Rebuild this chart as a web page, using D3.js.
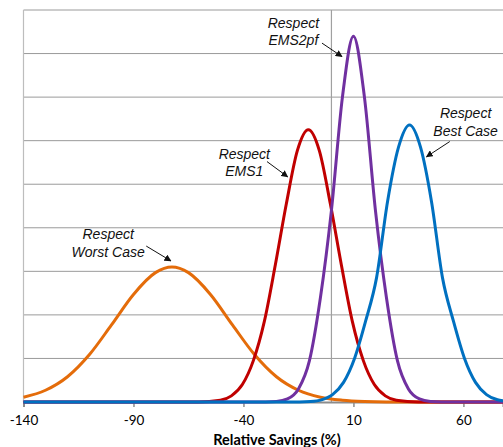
<!DOCTYPE html>
<html>
<head>
<meta charset="utf-8">
<script src="https://cdn.jsdelivr.net/npm/d3@7"></script>
<style>
  body { margin: 0; background: #fff; }
  .tick-label { font-family: Lato, "Open Sans", sans-serif; font-size: 13px; fill: #000; }
  .note { font-family: "Liberation Sans", Arial, sans-serif; font-style: italic; font-size: 14px; fill: #111; }
</style>
</head>
<body>
<svg width="503" height="447"></svg>
<script>
var xTicks = [-140, -90, -40, 10, 60];
var gridLevels = [1, 2, 3, 4, 5, 6, 7, 8, 9];

var worstX = [-140, -130, -120, -110, -100, -90, -80, -72.5, -65, -55, -45, -35, -25, -15, -5, 5, 15, 25, 78];
var worstY = [0.11, 0.27, 0.58, 1.09, 1.77, 2.47, 2.97, 3.1, 2.97, 2.47, 1.77, 1.09, 0.58, 0.27, 0.11, 0.04, 0.01, 0, 0];

var ems1X = [-140, -60.5, -50.5, -45.5, -40.5, -35.5, -30.5, -25.5, -20.5, -15.5, -10.5, -5.5, -0.5, 4.5, 9.5, 14.5, 19.5, 24.5, 29.5, 39.5, 78];
var ems1Y = [0, 0, 0.04, 0.14, 0.4, 0.95, 1.85, 3.15, 4.55, 5.77, 6.25, 5.77, 4.55, 3.15, 1.85, 0.95, 0.4, 0.14, 0.04, 0, 0];

var ems2X = [-140, -30, -25, -20, -15, -10, -5, 0, 5, 10, 15, 20, 25, 30, 35, 40, 45, 50, 78];
var ems2Y = [0, 0, 0.01, 0.07, 0.3, 0.95, 2.4, 4.4, 7.0, 8.4, 7.0, 4.4, 2.4, 0.95, 0.3, 0.07, 0.01, 0, 0];

var bestX = [-140, -14.5, -9.5, -4.5, 0.5, 5.5, 10.5, 15.5, 20.5, 25.5, 30.5, 35.5, 40.5, 45.5, 50.5, 55.5, 60.5, 65.5, 70.5, 75.5, 78];
var bestY = [0, 0, 0.01, 0.05, 0.17, 0.45, 1.0, 1.85, 2.85, 4.6, 5.85, 6.36, 5.85, 4.6, 2.85, 1.85, 1.0, 0.45, 0.17, 0.05, 0.03];

var seriesNames = ['Worst Case', 'EMS1', 'EMS2pf', 'Best Case'];
var seriesColors = ['#e46c0a', '#c00000', '#7030a0', '#0070c0'];

var svg = d3.select('svg');

var x = d3.scaleLinear().domain([-140, 78]).range([23.5, 503]);
var y = d3.scaleLinear().domain([0, 9]).range([402, 10]);

// horizontal grid
svg.append('g')
    .selectAll('line')
    .data(gridLevels)
    .enter().append('line')
    .attr('x1', x(-140))
    .attr('x2', x(78))
    .attr('y1', function(d) { return y(d); })
    .attr('y2', function(d) { return y(d); })
    .attr('stroke', '#9a9a9a')
    .attr('stroke-width', 1);

// left axis line
svg.append('line')
    .attr('x1', x(-140)).attr('x2', x(-140))
    .attr('y1', y(9)).attr('y2', y(0))
    .attr('stroke', '#bdbdbd')
    .attr('stroke-width', 1.2);

// vertical line at zero
svg.append('line')
    .attr('x1', x(0)).attr('x2', x(0))
    .attr('y1', y(9)).attr('y2', y(0))
    .attr('stroke', '#a0a0a0')
    .attr('stroke-width', 1.2);

// x axis
var xAxis = d3.axisBottom(x)
    .tickValues(xTicks)
    .tickFormat(function(d) { return String(d); })
    .tickSize(5)
    .tickPadding(8);

var axisG = svg.append('g')
    .attr('transform', 'translate(0,' + y(0) + ')')
    .call(xAxis);

axisG.select('.domain')
    .attr('stroke', '#8c8c8c')
    .attr('stroke-width', 2);
axisG.selectAll('.tick line')
    .attr('stroke', '#8c8c8c')
    .attr('stroke-width', 1.5);
axisG.selectAll('.tick text')
    .attr('class', 'tick-label')
    .attr('fill', '#000')
    .style('font-family', 'Lato, "Open Sans", sans-serif')
    .style('font-size', '13.5px');

svg.append('text')
    .text('Relative Savings (%)')
    .attr('x', 277)
    .attr('y', 445)
    .attr('text-anchor', 'middle')
    .style('font-family', 'Lato, "Open Sans", sans-serif')
    .style('font-weight', 'bold')
    .style('font-size', '14.5px');

// curves
var curves = [
    [worstX, worstY],
    [ems1X, ems1Y],
    [ems2X, ems2Y],
    [bestX, bestY]
];

var line = d3.line()
    .x(function(d) { return x(d[0]); })
    .y(function(d) { return y(d[1]); })
    .curve(d3.curveMonotoneX);

curves.forEach(function(c, i) {
    var pts = c[0].map(function(v, j) { return [v, c[1][j]]; });
    svg.append('path')
        .datum(pts)
        .attr('d', line)
        .attr('fill', 'none')
        .attr('stroke', seriesColors[i])
        .attr('stroke-width', 3)
        .attr('stroke-linejoin', 'round')
        .attr('class', 'series-' + seriesNames[i].replace(' ', ''));
});

// annotations
svg.append('defs').append('marker')
    .attr('id', 'arrow')
    .attr('viewBox', '0 0 10 10')
    .attr('refX', 9)
    .attr('refY', 5)
    .attr('markerWidth', 7)
    .attr('markerHeight', 7)
    .attr('markerUnits', 'userSpaceOnUse')
    .attr('orient', 'auto')
    .append('path')
    .attr('d', 'M0,0 L10,5 L0,10 z')
    .attr('fill', '#111');

var noteLabels = [['Respect', 'EMS2pf'], ['Respect', 'Best Case'], ['Respect', 'EMS1'], ['Respect', 'Worst Case']];
var noteAt = [[-17.3, 8.59], [61.0, 6.52], [-39.6, 5.58], [-101.5, 3.74]];
var arrowFrom = [[-4.3, 8.24], [53.8, 5.98], [-29.3, 5.52], [-84.2, 3.58]];
var arrowTo = [[4.8, 7.93], [43.2, 5.63], [-19.9, 5.17], [-73.0, 3.24]];

noteLabels.forEach(function(lines, i) {
    var t = svg.append('text')
        .attr('class', 'note')
        .attr('text-anchor', 'middle')
        .attr('x', x(noteAt[i][0]))
        .attr('y', y(noteAt[i][1]));
    lines.forEach(function(s, k) {
        t.append('tspan')
            .attr('x', x(noteAt[i][0]))
            .attr('dy', k == 0 ? 0 : 17.5)
            .text(s);
    });
    svg.append('line')
        .attr('x1', x(arrowFrom[i][0]))
        .attr('y1', y(arrowFrom[i][1]))
        .attr('x2', x(arrowTo[i][0]))
        .attr('y2', y(arrowTo[i][1]))
        .attr('stroke', '#111')
        .attr('stroke-width', 1)
        .attr('marker-end', 'url(#arrow)');
});
</script>
</body>
</html>
